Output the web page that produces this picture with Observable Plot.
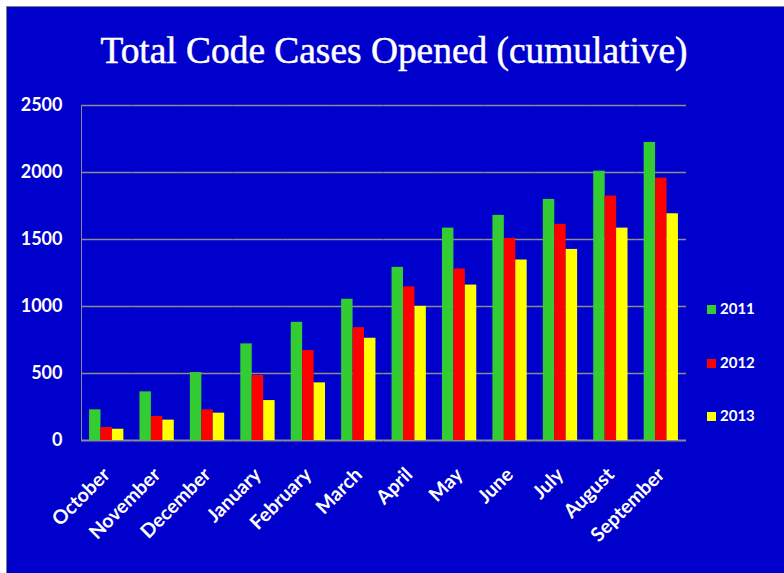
<!DOCTYPE html>
<html>
<head>
<meta charset="utf-8">
<script src="https://cdn.jsdelivr.net/npm/d3@7"></script>
<script src="https://cdn.jsdelivr.net/npm/@observablehq/plot@0.6"></script>
<style>
  html, body { margin: 0; padding: 0; background: #ffffff; width: 784px; height: 573px; overflow: hidden; }
  #box { position: absolute; left: 6px; top: 6px; width: 778px; height: 567px; background: #0000CC;
         border-left: 1.5px solid #808080; border-top: 1.5px solid #808080; }
  #title { position: absolute; left: 0; width: 788px; top: 32px; text-align: center; color: #ffffff;
           font-family: "Liberation Serif", serif; font-size: 37.4px; line-height: 37px; margin: 0; font-weight: normal;
           -webkit-text-stroke: 0.5px #ffffff; }
  #chart { position: absolute; left: 0; top: 90px; }
  #chart svg text { fill: #ffffff; }
  .leg { position: absolute; left: 707px; font-family: Lato, sans-serif; font-weight: bold; font-size: 15px;
         color: #ffffff; line-height: 16px; height: 16px; }
  .leg span.sw { display: inline-block; width: 9px; height: 9px; margin-right: 4px; vertical-align: 0px; }
</style>
</head>
<body>
<div id="box"></div>
<h1 id="title">Total Code Cases Opened (cumulative)</h1>
<div id="chart"></div>
<div id="legend"></div>
<script>
const months = ["October","November","December","January","February","March","April","May","June","July","August","September"];
const years = ["2011","2012","2013"];
const colors = ["#33CC33","#FF0000","#FFFF00"];
const values2011 = [229, 363, 507, 721, 882, 1054, 1292, 1585, 1680, 1799, 2010, 2224];
const values2012 = [97, 179, 229, 485, 671, 842, 1146, 1280, 1508, 1613, 1824, 1958];
const values2013 = [84, 152, 204, 298, 430, 763, 1001, 1160, 1347, 1426, 1585, 1692];
const yTicks = [0, 500, 1000, 1500, 2000, 2500];

const series = [values2011, values2012, values2013];
const data = months.flatMap((m, i) => years.map((y, j) => ({month: m, year: y, value: series[j][i]})));

const chart = Plot.plot({
  width: 784,
  height: 483,
  marginLeft: 81,
  marginRight: 98,
  marginTop: 15,
  marginBottom: 133,
  style: {background: "transparent", color: "#8c8c8c", fontFamily: "Lato, sans-serif", fontWeight: "bold", fontSize: "18px", overflow: "visible"},
  fx: {domain: months, padding: 0, round: false, label: null, tickRotate: -45, tickSize: 0, tickPadding: 31},
  x: {domain: years, paddingInner: 0, paddingOuter: 0.705, round: false, axis: null},
  y: {domain: [0, 2500], ticks: yTicks, tickFormat: d => String(d), tickSize: 0, tickPadding: 19, label: null, line: true},
  color: {domain: years, range: colors},
  marks: [
    Plot.ruleY(yTicks.filter(d => d > 0), {stroke: "#8c8c8c", strokeWidth: 1.5}),
    Plot.ruleY([0], {stroke: "#8c8c8c", strokeWidth: 2}),
    Plot.barY(data, {fx: "month", x: "year", y: "value", fill: "year"})
  ]
});
document.getElementById("chart").appendChild(chart);
// larger month labels
chart.querySelectorAll("[aria-label^='fx-axis'] text, g[aria-label='fx-axis tick label'] text").forEach(t => t.style.fontSize = "19.5px");

const legendTops = [300, 354, 407];
const legend = document.getElementById("legend");
years.forEach((y, i) => {
  const div = document.createElement("div");
  div.className = "leg";
  div.style.top = legendTops[i] + "px";
  div.innerHTML = `<span class="sw" style="background:${colors[i]}"></span>${y}`;
  legend.appendChild(div);
});
</script>
</body>
</html>
